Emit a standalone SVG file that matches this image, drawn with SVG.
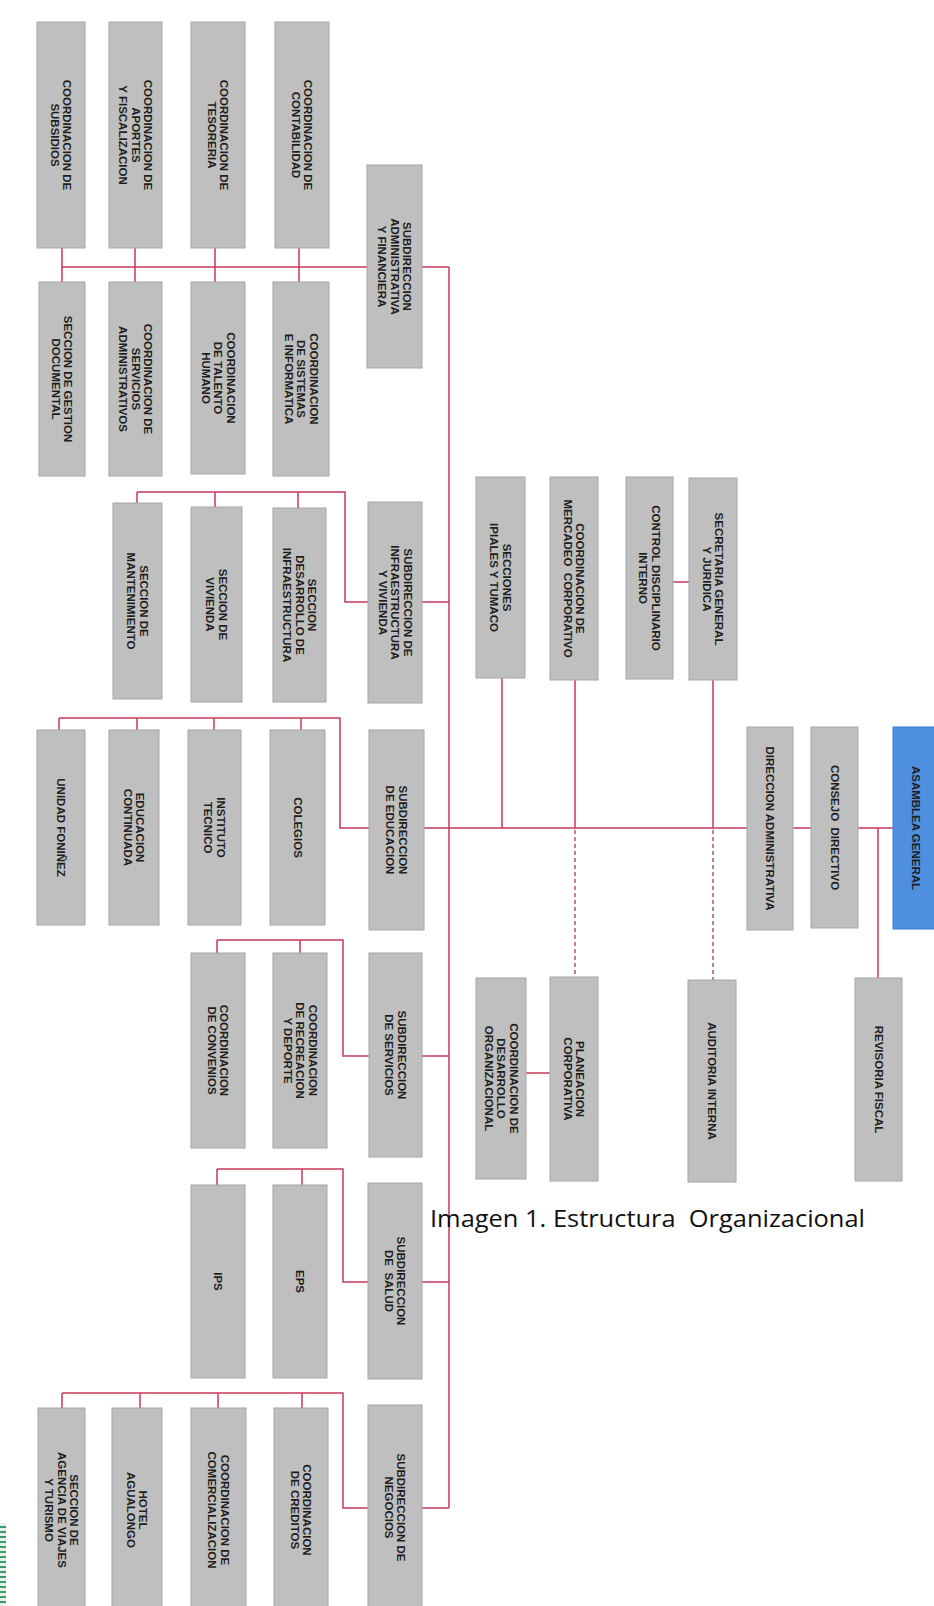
<svg xmlns="http://www.w3.org/2000/svg" width="934" height="1606" viewBox="0 0 934 1606">
<style>
.box{fill:#bfbfbf;stroke:#a6a6a6;stroke-width:1}
.blue{fill:#4f8fe0;stroke:#3f7fd0;stroke-width:1}
.lbl{font-family:"Liberation Sans",Arial,sans-serif;font-size:11.5px;font-weight:bold;fill:#1e1e1e;text-anchor:middle}
.ln{stroke:#c8385a;stroke-width:1.5;fill:none}
.dash{stroke:#b05a70;stroke-width:1.5;fill:none;stroke-dasharray:4 3}
.cap{font-family:"Open Sans","Liberation Sans",sans-serif;font-size:24px;fill:#111}
</style>
<rect width="934" height="1606" fill="#ffffff"/>

<g id="connectors">
<path class="ln" d="M62,267 H367 M422,267 H449 M62,248 V282 M135,248 V282 M215,248 V282 M299,248 V282"/>
<path class="ln" d="M449,267 V1508"/>
<path class="ln" d="M368,602 H345 V492 H137 M137,492 V503 M215,492 V507 M298,492 V508 M422,602 H449"/>
<path class="ln" d="M369,828 H340 V718 H59 M59,718 V730 M137,718 V730 M214,718 V730 M301,718 V730"/>
<path class="ln" d="M424,828 H747 M793,828 H811 M858,828 H893"/>
<path class="ln" d="M369,1056 H343 V940 H217 M217,940 V953 M300,940 V953 M422,1056 H449"/>
<path class="ln" d="M368,1282 H343 V1169 H217 M217,1169 V1185 M302,1169 V1185 M422,1282 H449"/>
<path class="ln" d="M368,1508 H343 V1393 H62 M62,1393 V1408 M140,1393 V1408 M218,1393 V1408 M302,1393 V1408 M422,1508 H449"/>
<path class="ln" d="M502,678 V828 M575,680 V828 M526,1073 H550 M673,582 H689 M713,680 V828 M878,828 V978"/>
<path class="dash" d="M575,830 V977 M713,830 V980"/>
</g>

<g id="n-subsidios"><rect class="box" x="37" y="22" width="48" height="226"/><text class="lbl" transform="translate(61,135) rotate(90)"><tspan x="0" y="-2.25">COORDINACION DE</tspan><tspan x="0" y="10.25">SUBSIDIOS</tspan></text></g>
<g id="n-aportes"><rect class="box" x="109" y="22" width="53" height="226"/><text class="lbl" transform="translate(135.5,135) rotate(90)"><tspan x="0" y="-8.5">COORDINACION DE</tspan><tspan x="0" y="4">APORTES</tspan><tspan x="0" y="16.5">Y FISCALIZACION</tspan></text></g>
<g id="n-tesoreria"><rect class="box" x="191" y="22" width="54" height="226"/><text class="lbl" transform="translate(218,135) rotate(90)"><tspan x="0" y="-2.25">COORDINACION DE</tspan><tspan x="0" y="10.25">TESORERIA</tspan></text></g>
<g id="n-contabilidad"><rect class="box" x="275" y="22" width="54" height="226"/><text class="lbl" transform="translate(302,135) rotate(90)"><tspan x="0" y="-2.25">COORDINACION DE</tspan><tspan x="0" y="10.25">CONTABILIDAD</tspan></text></g>

<g id="n-gestion-documental"><rect class="box" x="39" y="282" width="46" height="194"/><text class="lbl" transform="translate(62,379) rotate(90)"><tspan x="0" y="-2.25">SECCION DE GESTION</tspan><tspan x="0" y="10.25">DOCUMENTAL</tspan></text></g>
<g id="n-servicios-admin"><rect class="box" x="109" y="282" width="53" height="194"/><text class="lbl" transform="translate(135.5,379) rotate(90)"><tspan x="0" y="-8.5">COORDINACION DE</tspan><tspan x="0" y="4">SERVICIOS</tspan><tspan x="0" y="16.5">ADMINISTRATIVOS</tspan></text></g>
<g id="n-talento"><rect class="box" x="191" y="282" width="54" height="192"/><text class="lbl" transform="translate(218,378) rotate(90)"><tspan x="0" y="-8.5">COORDINACION</tspan><tspan x="0" y="4">DE TALENTO</tspan><tspan x="0" y="16.5">HUMANO</tspan></text></g>
<g id="n-sistemas"><rect class="box" x="273" y="282" width="56" height="194"/><text class="lbl" transform="translate(301,379) rotate(90)"><tspan x="0" y="-8.5">COORDINACION</tspan><tspan x="0" y="4">DE SISTEMAS</tspan><tspan x="0" y="16.5">E INFORMATICA</tspan></text></g>

<g id="n-sub-admin"><rect class="box" x="367" y="165" width="55" height="203"/><text class="lbl" transform="translate(394.5,266.5) rotate(90)"><tspan x="0" y="-8.5">SUBDIRECCION</tspan><tspan x="0" y="4">ADMINISTRATIVA</tspan><tspan x="0" y="16.5">Y FINANCIERA</tspan></text></g>

<g id="n-sub-infra"><rect class="box" x="368" y="502" width="54" height="201"/><text class="lbl" transform="translate(395,602.5) rotate(90)"><tspan x="0" y="-8.5">SUBDIRECCION DE</tspan><tspan x="0" y="4">INFRAESTRUCTURA</tspan><tspan x="0" y="16.5">Y VIVIENDA</tspan></text></g>
<g id="n-mantenimiento"><rect class="box" x="113" y="503" width="49" height="196"/><text class="lbl" transform="translate(137.5,601) rotate(90)"><tspan x="0" y="-2.25">SECCION DE</tspan><tspan x="0" y="10.25">MANTENIMIENTO</tspan></text></g>
<g id="n-vivienda"><rect class="box" x="191" y="507" width="51" height="195"/><text class="lbl" transform="translate(216.5,604.5) rotate(90)"><tspan x="0" y="-2.25">SECCION DE</tspan><tspan x="0" y="10.25">VIVIENDA</tspan></text></g>
<g id="n-desarrollo-infra"><rect class="box" x="273" y="508" width="53" height="194"/><text class="lbl" transform="translate(299.5,605) rotate(90)"><tspan x="0" y="-8.5">SECCION</tspan><tspan x="0" y="4">DESARROLLO DE</tspan><tspan x="0" y="16.5">INFRAESTRUCTURA</tspan></text></g>

<g id="n-sub-educacion"><rect class="box" x="369" y="730" width="55" height="200"/><text class="lbl" transform="translate(396.5,830) rotate(90)"><tspan x="0" y="-2.25">SUBDIRECCION</tspan><tspan x="0" y="10.25">DE EDUCACION</tspan></text></g>
<g id="n-foninez"><rect class="box" x="37" y="730" width="48" height="195"/><text class="lbl" transform="translate(61,827.5) rotate(90)"><tspan x="0" y="4">UNIDAD FONIÑEZ</tspan></text></g>
<g id="n-continuada"><rect class="box" x="109" y="730" width="50" height="195"/><text class="lbl" transform="translate(134,827.5) rotate(90)"><tspan x="0" y="-2.25">EDUCACION</tspan><tspan x="0" y="10.25">CONTINUADA</tspan></text></g>
<g id="n-instituto"><rect class="box" x="188" y="730" width="53" height="195"/><text class="lbl" transform="translate(214.5,827.5) rotate(90)"><tspan x="0" y="-2.25">INSTITUTO</tspan><tspan x="0" y="10.25">TECNICO</tspan></text></g>
<g id="n-colegios"><rect class="box" x="270" y="730" width="55" height="195"/><text class="lbl" transform="translate(297.5,827.5) rotate(90)"><tspan x="0" y="4">COLEGIOS</tspan></text></g>

<g id="n-sub-servicios"><rect class="box" x="369" y="953" width="53" height="204"/><text class="lbl" transform="translate(395.5,1055) rotate(90)"><tspan x="0" y="-2.25">SUBDIRECCION</tspan><tspan x="0" y="10.25">DE SERVICIOS</tspan></text></g>
<g id="n-convenios"><rect class="box" x="191" y="953" width="54" height="195"/><text class="lbl" transform="translate(218,1050.5) rotate(90)"><tspan x="0" y="-2.25">COORDINACION</tspan><tspan x="0" y="10.25">DE CONVENIOS</tspan></text></g>
<g id="n-recreacion"><rect class="box" x="273" y="953" width="54" height="195"/><text class="lbl" transform="translate(300,1050.5) rotate(90)"><tspan x="0" y="-8.5">COORDINACION</tspan><tspan x="0" y="4">DE RECREACION</tspan><tspan x="0" y="16.5">Y DEPORTE</tspan></text></g>

<g id="n-sub-salud"><rect class="box" x="368" y="1183" width="54" height="196"/><text class="lbl" transform="translate(395,1281) rotate(90)" xml:space="preserve"><tspan x="0" y="-2.25">SUBDIRECCION</tspan><tspan x="0" y="10.25">DE  SALUD</tspan></text></g>
<g id="n-ips"><rect class="box" x="191" y="1185" width="54" height="193"/><text class="lbl" transform="translate(218,1281.5) rotate(90)"><tspan x="0" y="4">IPS</tspan></text></g>
<g id="n-eps"><rect class="box" x="273" y="1185" width="54" height="193"/><text class="lbl" transform="translate(300,1281.5) rotate(90)"><tspan x="0" y="4">EPS</tspan></text></g>

<g id="n-sub-negocios"><rect class="box" x="368" y="1405" width="54" height="205"/><text class="lbl" transform="translate(395,1507.5) rotate(90)"><tspan x="0" y="-2.25">SUBDIRECCION DE</tspan><tspan x="0" y="10.25">NEGOCIOS</tspan></text></g>
<g id="n-agencia"><rect class="box" x="38" y="1408" width="47" height="204"/><text class="lbl" transform="translate(61.5,1510) rotate(90)"><tspan x="0" y="-8.5">SECCION DE</tspan><tspan x="0" y="4">AGENCIA DE VIAJES</tspan><tspan x="0" y="16.5">Y TURISMO</tspan></text></g>
<g id="n-hotel"><rect class="box" x="112" y="1408" width="50" height="204"/><text class="lbl" transform="translate(137,1510) rotate(90)"><tspan x="0" y="-2.25">HOTEL</tspan><tspan x="0" y="10.25">AGUALONGO</tspan></text></g>
<g id="n-comercializacion"><rect class="box" x="191" y="1408" width="55" height="204"/><text class="lbl" transform="translate(218.5,1510) rotate(90)"><tspan x="0" y="-2.25">COORDINACION DE</tspan><tspan x="0" y="10.25">COMERCIALIZACION</tspan></text></g>
<g id="n-creditos"><rect class="box" x="274" y="1408" width="54" height="204"/><text class="lbl" transform="translate(301,1510) rotate(90)"><tspan x="0" y="-2.25">COORDINACION</tspan><tspan x="0" y="10.25">DE CREDITOS</tspan></text></g>

<g id="n-ipiales"><rect class="box" x="476" y="477" width="49" height="201"/><text class="lbl" transform="translate(500.5,577.5) rotate(90)"><tspan x="0" y="-2.25">SECCIONES</tspan><tspan x="0" y="10.25">IPIALES Y TUMACO</tspan></text></g>
<g id="n-mercadeo"><rect class="box" x="550" y="477" width="48" height="203"/><text class="lbl" transform="translate(574,578.5) rotate(90)" xml:space="preserve"><tspan x="0" y="-2.25">COORDINACION DE</tspan><tspan x="0" y="10.25">MERCADEO  CORPORATIVO</tspan></text></g>
<g id="n-control"><rect class="box" x="626" y="477" width="47" height="202"/><text class="lbl" transform="translate(649.5,578) rotate(90)"><tspan x="0" y="-2.25">CONTROL DISCIPLINARIO</tspan><tspan x="0" y="10.25">INTERNO</tspan></text></g>
<g id="n-secretaria"><rect class="box" x="689" y="478" width="48" height="202"/><text class="lbl" transform="translate(713,579) rotate(90)"><tspan x="0" y="-2.25">SECRETARIA GENERAL</tspan><tspan x="0" y="10.25">Y JURIDICA</tspan></text></g>

<g id="n-direccion"><rect class="box" x="747" y="727" width="46" height="203"/><text class="lbl" transform="translate(770,828.5) rotate(90)"><tspan x="0" y="4">DIRECCION ADMINISTRATIVA</tspan></text></g>
<g id="n-consejo"><rect class="box" x="811" y="727" width="47" height="201"/><text class="lbl" transform="translate(834.5,827.5) rotate(90)" xml:space="preserve"><tspan x="0" y="4">CONSEJO  DIRECTIVO</tspan></text></g>
<g id="n-asamblea"><rect class="blue" x="893" y="727" width="46" height="202"/><text class="lbl" transform="translate(915.5,828) rotate(90)"><tspan x="0" y="4">ASAMBLEA GENERAL</tspan></text></g>

<g id="n-desarrollo-org"><rect class="box" x="476" y="978" width="50" height="201"/><text class="lbl" transform="translate(501,1078.5) rotate(90)"><tspan x="0" y="-8.5">COORDINACION DE</tspan><tspan x="0" y="4">DESARROLLO</tspan><tspan x="0" y="16.5">ORGANIZACIONAL</tspan></text></g>
<g id="n-planeacion"><rect class="box" x="550" y="977" width="48" height="204"/><text class="lbl" transform="translate(574,1079) rotate(90)"><tspan x="0" y="-2.25">PLANEACION</tspan><tspan x="0" y="10.25">CORPORATIVA</tspan></text></g>
<g id="n-auditoria"><rect class="box" x="688" y="980" width="48" height="202"/><text class="lbl" transform="translate(712,1081) rotate(90)"><tspan x="0" y="4">AUDITORIA INTERNA</tspan></text></g>
<g id="n-revisoria"><rect class="box" x="855" y="978" width="47" height="203"/><text class="lbl" transform="translate(878.5,1079.5) rotate(90)"><tspan x="0" y="4">REVISORIA FISCAL</tspan></text></g>

<text class="cap" x="430" y="1227" xml:space="preserve" textLength="435" lengthAdjust="spacingAndGlyphs">Imagen 1. Estructura  Organizacional</text>

<g id="logo-fragment">
<rect x="0" y="1523" width="6" height="83" fill="#e6f2ea"/>
<path d="M0,1527 H6 M0,1532 H6 M0,1537 H6 M0,1542 H6 M0,1547 H6 M0,1552 H6 M0,1557 H6 M0,1562 H6 M0,1567 H6 M0,1572 H6 M0,1577 H6 M0,1582 H6 M0,1587 H6 M0,1592 H6 M0,1597 H6 M0,1602 H6" stroke="#3a9a6a" stroke-width="2"/>
</g>
</svg>
